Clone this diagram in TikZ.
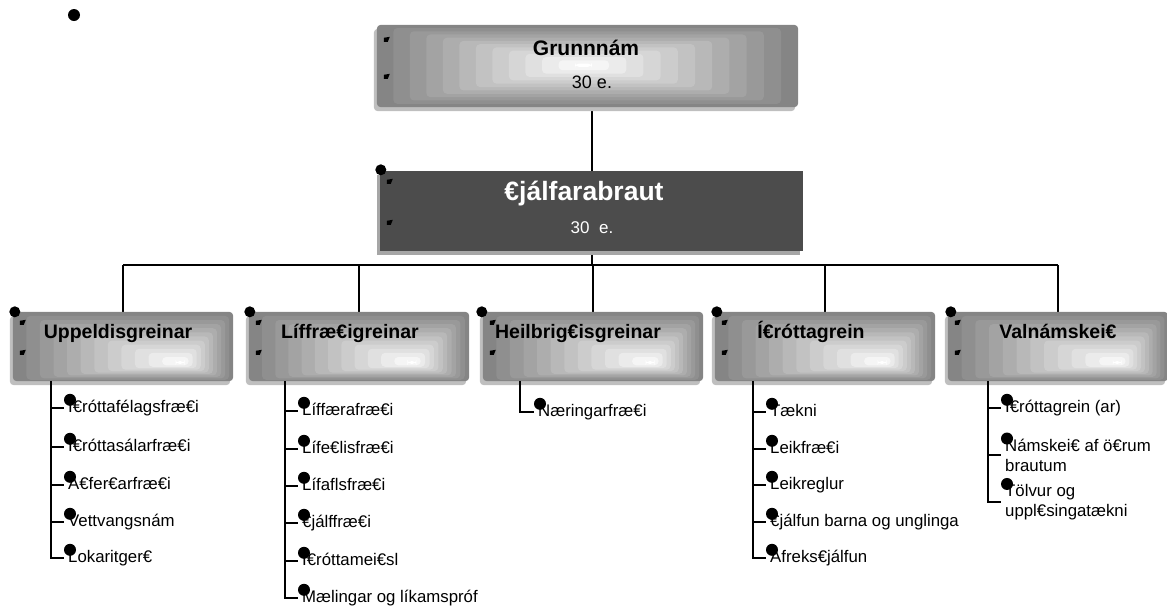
\documentclass[tikz,border=0pt]{standalone}
\usepackage{fontspec}
\setmainfont{Liberation Sans}
\usetikzlibrary{calc}

\tikzset{
  box/.style={minimum width=220pt, minimum height=69pt, inner sep=0pt},
  head/.style={font=\bfseries\fontsize{19.5}{22}\selectfont, inner sep=0pt, anchor=base},
  item/.style={font=\fontsize{16.8}{20}\selectfont, anchor=west, inner xsep=4pt, inner ysep=0pt, text height=12.5pt, text depth=3.5pt},
  item2/.style={font=\fontsize{16.8}{20}\selectfont, anchor=west, inner xsep=4pt, inner ysep=0pt, align=left},
  link/.style={line width=1.6pt},
}

% stepped grey fill of a box, lightest at the point (#2,#3) of it
\newcommand\stepshade[3]{
  \fill[black!25, rounded corners=4pt] ([shift={(-3,4)}]#1.north west) rectangle ([shift={(-3,4)}]#1.south east);
  \path (#1.north west) -- (#1.north east) coordinate[pos=#2] (hx);
  \path (#1.north west) -- (#1.south west) coordinate[pos=#3] (hy);
  \coordinate (hl) at (hx |- hy);
  \foreach \t in {0,0.08,...,0.97}{
    \pgfmathsetmacro\shadeval{max(0,48-50*\t)}
    \fill[black!\shadeval, rounded corners=4pt] ($(#1.north west)!\t!(hl)$) rectangle ($(#1.south east)!\t!(hl)$);
  }
}
% the two small flags on the left side of a box
\newcommand\flags[3]{
  \fill ([shift={(7,#2)}]#1.north west) -- ++(6,-1) -- ++(-2,5) -- ++(-4,0) -- cycle;
  \fill ([shift={(7,#3)}]#1.north west) -- ++(6,-1) -- ++(-2,5) -- ++(-4,0) -- cycle;
}

\begin{document}
\begin{tikzpicture}[x=1pt, y=-1pt]
\useasboundingbox (0,0) rectangle (1167,606);
\fill (74,15) circle (6pt);

% top two boxes
\node[box, minimum width=421pt, minimum height=82pt] (grunn) at (587.5,66) {};
\node[box, minimum width=423pt, minimum height=80pt] (thj) at (591.5,211) {};
\coordinate (trunk) at (592,265);
\draw[link] (trunk |- grunn.south) -- (trunk);

\stepshade{grunn}{0.49}{0.49}
\flags{grunn}{13}{50}
\node[font=\bfseries\fontsize{21}{24}\selectfont, anchor=base] (grunnt) at (586,55.5) {Grunnnám};
\node[font=\fontsize{18}{21}\selectfont, anchor=base] (grunne) at (592,88) {30 e.};

\fill[black!35] ([shift={(-3,4)}]thj.north west) rectangle ([shift={(-3,4)}]thj.south east);
\fill[black!70] (thj.north west) rectangle (thj.south east);
\fill ([shift={(1,-1)}]thj.north west) circle (5.5pt);
\flags{thj}{9}{50}
\node[font=\bfseries\fontsize{26.5}{30}\selectfont, text=white, anchor=base] (thjt) at (584,200) {€jálfarabraut};
\node[font=\fontsize{17}{20}\selectfont, text=white, anchor=base] (thje) at (592,233) {30\ \ e.};

% the five branches
\node[box] (upp) at (123,346.5) {};
\node[box] (lif) at (359,346.5) {};
\node[box] (heil) at (593,346.5) {};
\node[box] (ithr) at (825,346.5) {};
\node[box] (valn) at (1058,346.5) {};

\draw[link] (upp.north |- trunk) -- (valn.north |- trunk);
\draw[link] (upp.north |- trunk) -- (upp.north);
\draw[link] (lif.north |- trunk) -- (lif.north);
\draw[link] (heil.north |- trunk) -- (heil.north);
\draw[link] (ithr.north |- trunk) -- (ithr.north);
\draw[link] (valn.north |- trunk) -- (valn.north);

\stepshade{upp}{0.77}{0.74}
\stepshade{lif}{0.75}{0.74}
\stepshade{heil}{0.77}{0.74}
\stepshade{ithr}{0.77}{0.74}
\stepshade{valn}{0.78}{0.74}
\flags{upp}{9}{39}
\flags{lif}{9}{39}
\flags{heil}{9}{39}
\flags{ithr}{9}{39}
\flags{valn}{9}{39}
\fill ([xshift=2pt]upp.north west) circle (5.5pt);
\fill ([xshift=1pt]lif.north west) circle (5.5pt);
\fill ([xshift=-1pt]heil.north west) circle (5.5pt);
\fill ([xshift=2pt]ithr.north west) circle (5.5pt);
\fill ([xshift=3pt]valn.north west) circle (5.5pt);

\node[head] (uppt) at (118,338) {Uppeldisgreinar};
\node[head] (lift) at (350,338) {Líffræ€igreinar};
\node[head] (heilt) at (578,338) {Heilbrig€isgreinar};
\node[head] (ithrt) at (811,338) {Í€róttagrein};
\node[head] (valnt) at (1058,338) {Valnámskei€};

% Uppeldisgreinar
\coordinate (uppl) at ([xshift=38pt]upp.south west);
\node[item] (u1) at (64,408) {Í€róttafélagsfræ€i};
\node[item] (u2) at (64,447) {Í€róttasálarfræ€i};
\node[item] (u3) at (64,485) {A€fer€arfræ€i};
\node[item] (u4) at (64,522) {Vettvangsnám};
\node[item] (u5) at (64,558) {Lokaritger€};
\draw[link] (uppl) |- (u1.west);
\draw[link] (uppl) |- (u2.west);
\draw[link] (uppl) |- (u3.west);
\draw[link] (uppl) |- (u4.west);
\draw[link] (uppl) |- (u5.west);
\fill ([xshift=6pt]u1.north west) circle (6pt);
\fill ([xshift=6pt]u2.north west) circle (6pt);
\fill ([xshift=6pt]u3.north west) circle (6pt);
\fill ([xshift=6pt]u4.north west) circle (6pt);
\fill ([xshift=6pt]u5.north west) circle (6pt);

% Liffraedigreinar
\coordinate (lifl) at ([xshift=36pt]lif.south west);
\node[item] (l1) at (298,411) {Líffærafræ€i};
\node[item] (l2) at (298,449) {Lífe€lisfræ€i};
\node[item] (l3) at (298,486) {Lífaflsfræ€i};
\node[item] (l4) at (298,523) {€jálffræ€i};
\node[item] (l5) at (298,561) {Í€róttamei€sl};
\node[item] (l6) at (298,598) {Mælingar og líkamspróf};
\draw[link] (lifl) |- (l1.west);
\draw[link] (lifl) |- (l2.west);
\draw[link] (lifl) |- (l3.west);
\draw[link] (lifl) |- (l4.west);
\draw[link] (lifl) |- (l5.west);
\draw[link] (lifl) |- (l6.west);
\fill ([xshift=6pt]l1.north west) circle (6pt);
\fill ([xshift=6pt]l2.north west) circle (6pt);
\fill ([xshift=6pt]l3.north west) circle (6pt);
\fill ([xshift=6pt]l4.north west) circle (6pt);
\fill ([xshift=6pt]l5.north west) circle (6pt);
\fill ([xshift=6pt]l6.north west) circle (6pt);

% Heilbrigdisgreinar
\coordinate (heill) at ([xshift=37pt]heil.south west);
\node[item] (h1) at (534,412) {Næringarfræ€i};
\draw[link] (heill) |- (h1.west);
\fill ([xshift=6pt]h1.north west) circle (6pt);

% Ithrottagrein
\coordinate (ithrl) at ([xshift=38pt]ithr.south west);
\node[item] (i1) at (766,412) {Tækni};
\node[item] (i2) at (766,449) {Leikfræ€i};
\node[item] (i3) at (766,485) {Leikreglur};
\node[item] (i4) at (766,522) {€jálfun barna og unglinga};
\node[item] (i5) at (766,558) {Afreks€jálfun};
\draw[link] (ithrl) |- (i1.west);
\draw[link] (ithrl) |- (i2.west);
\draw[link] (ithrl) |- (i3.west);
\draw[link] (ithrl) |- (i4.west);
\draw[link] (ithrl) |- (i5.west);
\fill ([xshift=6pt]i1.north west) circle (6pt);
\fill ([xshift=6pt]i2.north west) circle (6pt);
\fill ([xshift=6pt]i3.north west) circle (6pt);
\fill ([xshift=6pt]i4.north west) circle (6pt);
\fill ([xshift=6pt]i5.north west) circle (6pt);

% Valnamskeid
\coordinate (valnl) at ([xshift=40pt]valn.south west);
\node[item] (v1) at (1001,408) {Í€róttagrein (ar)};
\node[item2] (v2) at (1001,455) {Námskei€ af ö€rum\\brautum};
\node[item2] (v3) at (1001,502) {Tölvur og\\uppl€singatækni};
\draw[link] (valnl) |- (v1.west);
\draw[link] (valnl) |- (v2.west);
\draw[link] (valnl) |- (v3.west);
\fill ([xshift=6pt]v1.north west) circle (6pt);
\fill ([xshift=6pt]v2.north west) circle (6pt);
\fill ([xshift=6pt]v3.north west) circle (6pt);
\end{tikzpicture}
\end{document}
